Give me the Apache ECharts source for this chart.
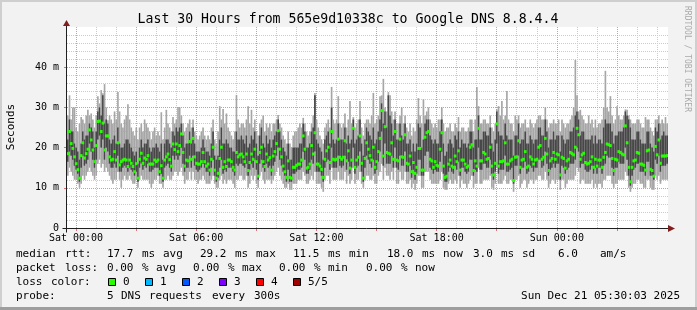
<!DOCTYPE html>
<html><head><meta charset="utf-8">
<script src="https://cdn.jsdelivr.net/npm/echarts@6/dist/echarts.min.js"></script>
<style>html,body{margin:0;padding:0;background:#f2f2f2;overflow:hidden}#c{width:697px;height:310px}</style>
</head><body><div id="c"></div>
<script>
// ---- data: 5-minute steps, Fri 23:33 .. Sun 05:33 (360 steps), values in ms ----
const med = [
18.5,24.0,21.0,19.8,17.7,16.0,14.5,12.4,18.0,21.2,17.4,18.5,19.6,24.4,21.9,19.4,16.5,20.5,26.5,26.6,
24.0,26.1,19.4,22.9,22.9,17.7,16.9,17.1,19.0,16.9,21.2,15.7,16.5,16.9,17.1,16.9,15.3,16.9,16.1,15.3,
14.0,16.0,12.4,17.1,18.6,16.1,17.4,17.1,18.0,15.9,15.9,15.9,16.9,16.5,16.9,14.0,15.5,12.4,16.9,17.7,
18.4,17.0,15.4,20.9,19.5,20.9,19.0,20.5,23.4,18.8,15.4,16.9,16.7,21.5,17.1,22.3,17.7,16.1,15.9,15.9,
16.5,18.8,16.5,15.4,15.9,14.4,17.1,20.1,14.4,12.4,13.6,17.3,20.1,15.1,16.5,15.3,16.9,16.9,16.5,15.1,
14.4,18.8,17.7,18.2,18.4,17.7,16.5,18.4,14.3,16.3,18.4,17.1,19.6,16.5,12.9,18.8,20.1,16.5,15.3,18.4,
16.9,17.5,14.4,17.9,19.0,21.0,24.2,19.6,17.7,15.4,14.0,12.6,16.7,12.6,12.4,15.1,15.1,15.6,15.9,15.9,
16.9,22.9,19.6,14.9,15.1,15.9,20.5,18.4,23.7,15.9,15.9,15.4,14.6,12.6,17.1,19.2,20.1,16.3,24.0,17.1,
16.9,17.1,22.1,17.6,17.1,17.6,21.7,16.7,19.2,14.9,16.9,24.8,15.1,16.9,17.6,22.9,16.1,12.4,17.3,21.2,
19.6,18.0,16.9,20.1,15.1,16.5,19.0,22.3,29.2,17.9,25.2,18.8,18.6,18.4,21.2,17.1,24.0,16.9,16.7,22.1,
17.7,17.6,23.2,16.1,15.9,17.9,14.0,16.3,13.6,15.1,19.8,19.8,14.4,14.4,22.6,23.7,24.0,17.1,16.7,15.1,
16.5,15.6,15.4,19.6,23.7,15.4,12.6,12.9,15.9,16.9,15.4,15.1,17.9,16.5,19.2,14.4,16.9,16.9,15.9,15.1,
15.4,20.1,20.7,14.3,16.7,15.4,24.8,16.7,16.7,18.8,18.4,17.1,17.3,20.1,15.4,13.2,16.1,25.9,15.4,16.5,
16.5,16.7,21.2,15.9,15.9,16.7,17.1,11.8,17.6,17.7,21.7,15.1,16.9,17.1,19.0,15.1,15.4,17.7,17.1,15.9,
16.9,17.1,20.1,20.5,17.1,17.6,22.3,18.4,14.3,16.7,17.3,18.8,17.1,18.4,18.2,13.2,17.6,17.3,14.9,16.7,
17.1,18.8,18.5,18.2,20.1,24.8,23.2,17.1,18.2,18.6,16.3,15.9,16.1,16.5,17.7,15.1,17.1,15.4,16.9,16.9,
15.1,17.6,18.8,20.9,20.7,20.5,17.3,14.3,17.1,16.9,19.0,18.8,18.4,18.2,25.4,21.2,15.1,11.5,15.1,16.7,
16.9,18.8,18.6,15.9,15.9,15.6,14.4,19.2,19.4,14.6,14.3,12.9,20.3,18.2,21.9,16.1,17.9,17.9,17.9,18.0
];
const lo = [
13,15,14,13,12,12,11,10,11,13,12,13,14,15,14,13,12,13,16,17,
15,16,14,15,14,13,12,11,12,12,14,12,10,12,13,12,12,13,12,11,
11,12,10,12,13,12,12,12,12,11,10,11,12,12,13,11,11,10,12,12,
13,12,12,13,14,14,13,14,15,13,11,12,12,14,12,14,12,12,11,12,
12,13,12,11,11,11,12,13,11,10,10,12,13,11,12,11,12,12,12,11,
10,12,12,13,13,12,12,13,10,11,13,12,13,11,10,13,14,12,11,12,
12,12,11,12,13,14,15,13,12,11,10,10,11,9.5,9.5,11,11,11,12,12,
12,14,13,11,11,12,13,12,14,11,11,11,10,9,12,13,13,11,15,12,
12,12,14,12,12,12,14,11,13,11,12,15,11,12,12,14,11,10,12,13,
13,12,12,13,11,11,13,14,16,12,15,13,13,12,14,12,15,11,11,14,
12,12,14,11,11,12,10,11,9.5,11,13,13,10,10,14,14,14,12,11,11,
11,11,11,12,14,10,9.5,9.5,11,12,11,11,12,11,13,10,12,11,11,10,
11,12,13,10,11,11,15,11,11,12,12,12,12,13,10,9.5,11,15,11,11,
11,12,13,11,11,12,12,9,12,12,13,10,11,12,12,10,11,12,12,11,
12,12,13,13,12,12,14,12,10,11,12,12,11,12,12,9.5,12,12,10,11,
12,12,12,12,13,15,14,11,12,12,11,11,11,11,12,10,11,10,11,11,
10,12,12,13,13,13,11,10,11,11,12,12,12,12,14,13,10,9,10,11,
11,12,12,11,11,10,10,12,12,10,9.5,9.5,13,12,13,11,12,12,12,12
];
const q1 = [
16.5,19,18,17,15.5,14.5,13.5,11.5,15,18,15.5,16,17,21,19,17,15,17,22,23,
20,22,17,20,19,16,15,15,16,15,18,14,14,15,15.5,15,14,15,14.5,14,
13,14,11.5,15,16,14.5,15.5,15,16,14,14,14.5,15,15,15,13,13.5,11.5,15,15.5,
16,15,14,18,17,18,17,18,20,16,14,15,15,18,15,18,15.5,14.5,14,14.5,
15,16,15,14,14,13,15,17,13,11.5,12.5,15,17,13.5,14.5,14,15,15,15,14,
13,16,15.5,16,16,15.5,15,16,13,14.5,16,15,17,14.5,12,16,17,15,14,16,
15,15.5,13,15.5,16.5,18,20,17,15.5,14,13,11.5,14.5,11.5,11.5,13.5,13.5,14,14.5,14.5,
15,19,17,13.5,13.5,14.5,17,16,19,14,14,14,13,11.5,15,16.5,17,14.5,20,15,
15,15,18,15.5,15,15.5,18,14.5,16.5,13.5,15,20,13.5,15,15.5,19,14,11.5,15,18,
17,16,15,17,13.5,14.5,16.5,19,24,15.5,21,16,16,16,18,15,20,15,14.5,18,
15.5,15.5,19,14,14,15.5,12.5,14.5,12,13.5,17,17,13,13,18,19,19,15,14.5,13.5,
14.5,14,14,16.5,19,13.5,11.5,11.5,14,15,14,13.5,15.5,14.5,16.5,13,15,15,14,13.5,
14,17,17,13,14.5,14,20,14.5,14.5,16,16,15,15,17,13.5,12,14,21,13.5,14.5,
14.5,14.5,18,14,14,14.5,15,11,15.5,15.5,18,13.5,15,15,16.5,13.5,14,15.5,15,14,
15,15,17,17,15,15.5,19,16,13,14.5,15,16,15,16,16,12,15.5,15,13.5,14.5,
15,16,16,16,17,20,19,15,16,16,14.5,14,14,14.5,15.5,13.5,15,13.5,15,15,
13.5,15.5,16,18,17.5,17.5,15,13,15,15,16.5,16,16,16,20,17,13,10.5,13,14.5,
15,16,16,14,14,14,13,16.5,16.5,13,13,12,17,16,18,14,15.5,15.5,15.5,16
];
const q3 = [
22,27,24,24,21,20,19,17,21,24,22,23,23,26,25,24,20,24,29,30,
28,33,26,27,26,22,21,22,23,21,25,21,20,20,21,22,22,21,20,19,
18,19,16,20,22,20,21,21,22,20,19,20,20,21,20,19,21,17,21,22,
22,21,20,24,23,25,24,25,26,23,20,21,21,24,21,25,21,19,19,19,
20,22,20,19,19,18,21,24,18,17,18,22,25,21,21,22,21,20,20,19,
19,24,22,22,23,22,21,23,20,21,23,22,24,21,18,23,25,21,20,23,
21,22,20,22,23,24,27,24,22,20,19,18,21,17,17,20,20,20,20,21,
21,26,24,20,20,21,24,25,33,22,21,20,19,17,22,23,24,21,30,22,
21,22,26,22,22,22,25,21,23,21,22,27,21,22,23,27,21,18,22,25,
24,23,22,25,21,22,24,27,31,26,29,25,33,28,26,23,27,22,22,26,
23,22,26,21,21,22,19,21,19,21,26,25,20,22,26,27,27,23,22,21,
22,21,21,24,27,21,18,19,21,22,21,20,23,22,24,20,22,21,21,20,
21,24,24,20,22,22,28,22,22,24,24,23,23,25,21,19,22,29,24,23,
23,22,26,23,22,22,22,18,23,23,26,21,22,22,24,21,21,23,22,21,
22,22,25,25,23,23,27,24,20,22,22,24,22,23,23,19,23,22,21,22,
22,24,24,25,28,29,27,23,24,24,22,22,22,22,23,21,23,21,22,22,
21,25,27,26,26,26,24,21,23,23,24,24,24,25,29,28,27,25,22,22,
22,24,24,22,21,21,21,24,24,21,20,19,25,24,26,22,23,24,23,23
];
const hi = [
28,33,27,30,30,25,24,26,27.6,27,26,28,29.4,28,28.5,27,25,28,32.8,31,
34.3,33.5,35.8,30,26.8,28,27,26,29,27,33.8,29,26,25,27,28,30.8,27,25,24,
23,25,22,25,26,24,27,26,25,24,22,24,25,23,24,23,28.8,22,25,29.4,
26,25,24,27.6,26,27,30.1,30,28,26,24,25,26,27,25,27,24,23,22,23,
24,25,23,22,23,22,25,27,22,21,24,30.3,27,29.6,26,28.5,25,24,23,22,
24,33.1,27,25,26,26,25,27,30.3,26,29.4,25,27,24,23,26,27,28,24,26,
25,26,24,26,26,27,28.1,26,25,23,22,21,24,21,20,23,24,24,25,26,
25,27.4,26,24,23,24,26,28,33.6,27,25,23,22,21,25,26,27,25,35.1,27,
26,27,32.8,26,25,26,28.5,25,27,31.6,26,27.6,25,26,27,31.6,25,23,26,27,
27,26,28,33.6,26,27,28,32.8,33,37.1,30,29,33.8,33,29,27,29,26,26,28,
30,26,28,25,24,26,23,25,24,27,32.3,28,26,32,28,29,30,27,26,25,
26,25,27,27,30,26,24,25,25,26,24,24,26,25,27.6,24,25,25,24,24,
25,27,27,24,27,35.1,30.3,26,26,27,27,26,26,28,25,24,26,29.5,30.3,28,
31.6,27,28,34.1,27,26,26,24,28,27,28,25,26,26,27,25,25,27,26,25,
26,27,28,28,27,27,30,27,25,26,26,27,26,26,27,24,27,26,25,26,
26,27,28,30,41.8,33,29,29.4,28,27,26,26,28,26,27,25,27,25,26,26,
27,30,39.1,30,29,32.8,28,26,27,30.3,28,27,27,28,29.5,29.4,28,27,26,26,
26,27,27,26,25,25,27.6,27,27,25,24,23,27,27,28,26,27,26,27.6,26
];
const xTickLabels = ['Sat 00:00','Sat 06:00','Sat 12:00','Sat 18:00','Sun 00:00'];
const yTickLabels = ['0','10 m','20 m','30 m','40 m'];
const lossColors = [['0','#26ff00'],['1','#00b8ff'],['2','#0059ff'],['3','#7e00ff'],['4','#ff0000'],['5/5','#a10000']];
const titleText = 'Last 30 Hours from 565e9d10338c to Google DNS 8.8.4.4';
const legendRows = [
  [[16,'median rtt:'],[107,'17.7 ms avg'],[200,'29.2 ms max'],[293,'11.5 ms min'],[387,'18.0 ms now'],[473,'3.0 ms sd'],[558,'6.0'],[600,'am/s']],
  [[16,'packet loss:'],[107,'0.00 % avg'],[193,'0.00 % max'],[279,'0.00 % min'],[366,'0.00 % now']],
  [[16,'loss color:']],
  [[16,'probe:'],[107,'5 DNS requests every 300s']]
];
const stampText = 'Sun Dec 21 05:30:03 2025';

// ---- layout ----
const MONO = '"DejaVu Sans Mono", monospace';
const rowY = [254, 268, 282, 296];
const pad = n => (n < 10 ? '0' : '') + n;
const START = 23 * 60 + 33, SLOT = 3, SLOTS = 600;
const days = ['Fri', 'Sat', 'Sun'];
const cats = [];
for (let k = 0; k <= SLOTS; k++) {
  const t = START + k * SLOT, m = t % 1440;
  cats.push(days[Math.floor(t / 1440)] + ' ' + pad(Math.floor(m / 60)) + ':' + pad(m % 60));
}
const isHour = i => cats[i].slice(-2) === '00';
const isMajor = i => isHour(i) && (+cats[i].slice(4, 6)) % 3 === 0;
const yMinor = []; for (let v = 0; v <= 50; v += 2) yMinor.push(String(v));
const yMajor = ['0', '10', '20', '30', '40', '50'];
const rows = med.map((m, i) => [i, lo[i], q1[i], m, q3[i], hi[i]]);

const GRAY = '#cbcbcb', RED = '#e99393';
const chart = echarts.init(document.getElementById('c'), null, {width: 697, height: 310});
const grid = {left: 67, right: 29, top: 27, bottom: 82};

function smoke(params, api) {
  const i = api.value(0);
  const xa = api.coord([i, 0])[0], xb = api.coord([i + 1, 0])[0];
  const y = k => api.coord([i, api.value(k)])[1];
  return {type: 'group', children: [
    {type: 'rect', shape: {x: xa, y: y(5), width: xb - xa, height: y(1) - y(5)}, style: {fill: '#a6a6a6'}},
    {type: 'rect', shape: {x: xa, y: y(4), width: xb - xa, height: y(2) - y(4)}, style: {fill: '#474747'}}
  ]};
}
function medMark(params, api) {
  const i = api.value(0);
  const xa = api.coord([i, 0])[0], xb = api.coord([i + 1, 0])[0];
  const ym = api.coord([i, api.value(3)])[1];
  return {type: 'rect', shape: {x: xa - 0.5, y: ym - 1.5, width: xb - xa + 1, height: 3}, style: {fill: '#26ff00'}};
}

chart.setOption({
  animation: false,
  backgroundColor: '#f2f2f2',
  grid: Object.assign({backgroundColor: '#ffffff', show: true, borderWidth: 0}, grid),
  xAxis: [
    {type: 'value', min: 0, max: SLOTS * SLOT / 5, show: false, position: 'bottom'},
    {type: 'category', data: cats, boundaryGap: false, position: 'bottom', z: 0,
      axisLine: {show: false}, axisTick: {show: false},
      axisLabel: {interval: i => xTickLabels.indexOf(cats[i]) >= 0, color: '#000', fontFamily: MONO, fontSize: 10, margin: 5},
      splitLine: {show: true, interval: i => isHour(i) && !isMajor(i), lineStyle: {color: GRAY, width: 1, type: [1, 1]}}},
    {type: 'category', data: cats, boundaryGap: false, position: 'bottom', z: 1,
      axisLine: {show: false}, axisLabel: {show: false},
      axisTick: {show: true, interval: i => isMajor(i), length: 3, lineStyle: {color: '#e07070'}},
      splitLine: {show: true, interval: i => isMajor(i), lineStyle: {color: RED, width: 1, type: [1, 1]}}}
  ],
  yAxis: [
    {type: 'value', min: 0, max: 50, show: false, position: 'left'},
    {type: 'category', data: yMinor, boundaryGap: false, position: 'left', z: 0,
      axisLine: {show: false}, axisTick: {show: false}, axisLabel: {show: false},
      splitLine: {show: true, interval: i => i % 5 !== 0, lineStyle: {color: GRAY, width: 1, type: [1, 1]}}},
    {type: 'category', data: yMajor, boundaryGap: false, position: 'left', z: 1,
      axisLine: {show: false},
      axisTick: {show: true, interval: i => i < 5, length: 3, lineStyle: {color: '#e07070'}},
      axisLabel: {interval: i => i < 5, formatter: (v, i) => yTickLabels[i] || '', color: '#000', fontFamily: MONO, fontSize: 10, margin: 8},
      splitLine: {show: true, interval: i => i > 0 && i < 5, lineStyle: {color: RED, width: 1, type: [1, 1]}}}
  ],
  series: [
    {type: 'custom', xAxisIndex: 0, yAxisIndex: 0, renderItem: smoke, data: rows, z: 2, silent: true, clip: true},
    {type: 'custom', xAxisIndex: 0, yAxisIndex: 0, renderItem: medMark, data: rows, z: 3, silent: true, clip: true}
  ]
});

// ---- decorations: axis lines, arrows, texts, frame ----
const p0 = chart.convertToPixel({xAxisIndex: 0, yAxisIndex: 0}, [0, 0]);
const p1 = chart.convertToPixel({xAxisIndex: 0, yAxisIndex: 0}, [SLOTS * SLOT / 5, 50]);
const ax = Math.round(p0[0]) - 0.5, ay = Math.round(p0[1]) + 0.5, xr = Math.round(p1[0]), yt = Math.round(p1[1]);
const g = [];
const txt = (x, y, s, font, align) => ({type: 'text', x: x, y: y, z: 50,
  style: {text: s, fill: '#000', font: font, textAlign: align || 'left', align: align || 'left', textVerticalAlign: 'middle', verticalAlign: 'middle'}});
// frame
g.push({type: 'rect', z: 40, shape: {x: 0, y: 0, width: 697, height: 2}, style: {fill: '#cfcfcf'}});
g.push({type: 'rect', z: 40, shape: {x: 0, y: 0, width: 2, height: 310}, style: {fill: '#cfcfcf'}});
g.push({type: 'rect', z: 40, shape: {x: 695, y: 0, width: 2, height: 310}, style: {fill: '#cfcfcf'}});
g.push({type: 'rect', z: 41, shape: {x: 0, y: 307, width: 697, height: 3}, style: {fill: '#9e9e9e'}});
// axes
g.push({type: 'line', z: 45, shape: {x1: ax - 4, y1: ay, x2: xr + 2, y2: ay}, style: {stroke: '#1f1f1f', lineWidth: 1}});
g.push({type: 'line', z: 45, shape: {x1: ax, y1: ay + 4, x2: ax, y2: yt - 2}, style: {stroke: '#1f1f1f', lineWidth: 1}});
g.push({type: 'polygon', z: 46, shape: {points: [[xr, ay - 3.5], [xr + 7, ay], [xr, ay + 3.5]]}, style: {fill: '#801f1f'}});
g.push({type: 'polygon', z: 46, shape: {points: [[ax - 3.5, yt - 1], [ax, yt - 7], [ax + 3.5, yt - 1]]}, style: {fill: '#801f1f'}});
// title, unit, watermark
g.push(txt(348, 19.5, titleText, '13.2px ' + MONO, 'center'));
g.push({type: 'text', x: 11, y: 127, rotation: Math.PI / 2, z: 50,
  style: {text: 'Seconds', fill: '#000', font: '11px ' + MONO, textAlign: 'center', align: 'center', textVerticalAlign: 'middle', verticalAlign: 'middle'}});
g.push({type: 'text', x: 687.5, y: 59, rotation: -Math.PI / 2, z: 50,
  style: {text: 'RRDTOOL / TOBI OETIKER', fill: '#aaaaaa', font: '8px ' + MONO, textAlign: 'center', align: 'center', textVerticalAlign: 'middle', verticalAlign: 'middle'}});
// legend rows, word by word on a 7px character grid
const CH = 7;
legendRows.forEach((row, r) => {
  row.forEach(([x0, s]) => {
    let col = 0;
    s.split(' ').forEach(w => { if (w) g.push(txt(x0 + col * CH, rowY[r], w, '11px ' + MONO)); col += w.length + 1; });
  });
});
lossColors.forEach(([lab, col], k) => {
  const bx = 108 + k * 37;
  g.push({type: 'rect', z: 50, shape: {x: bx + 0.5, y: rowY[2] - 3.5, width: 7, height: 7}, style: {fill: col, stroke: '#000', lineWidth: 1}});
  g.push(txt(bx + 15, rowY[2], lab, '11px ' + MONO));
});
g.push(txt(680, rowY[3], stampText, '11px ' + MONO, 'right'));
chart.setOption({graphic: {elements: g}});
</script>
</body></html>
